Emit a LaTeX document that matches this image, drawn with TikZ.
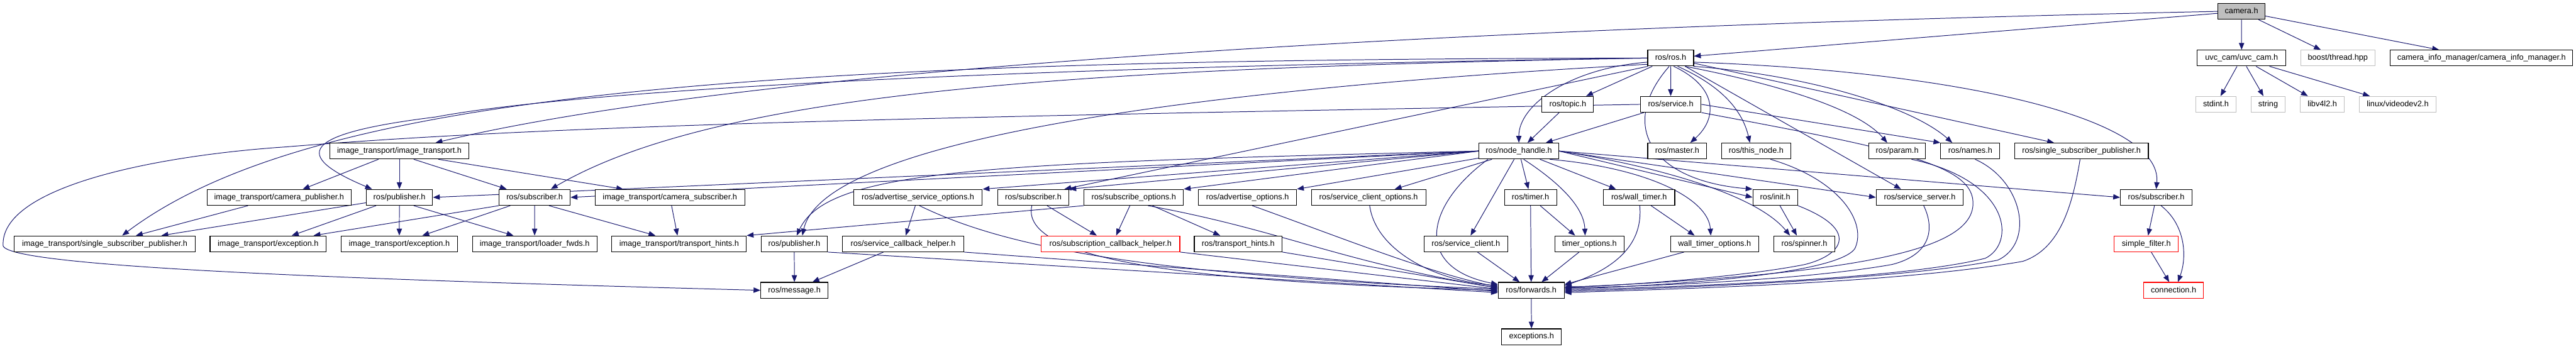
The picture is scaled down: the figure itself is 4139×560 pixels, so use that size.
\documentclass[tikz,border=0pt]{standalone}
\usepackage{fontspec}
\setmainfont{Liberation Sans}
\usetikzlibrary{arrows.meta}
\definecolor{edgec}{HTML}{191970}
\definecolor{grayc}{HTML}{BFBFBF}
\pgfdeclarelayer{bg}
\pgfsetlayers{bg,main}
\newcommand\mkbox[6][]{\node[dbox,#1,minimum width={#4pt-#3pt}] (#2) at ({(#3+#4)/2},#5) {#6};}
\begin{document}
\begin{tikzpicture}[x=1pt,y=-1pt,
  dbox/.style={draw=black, line width=1.1pt, fill=white, rectangle, inner sep=0pt,
    minimum height=25.5pt, text height=9.4pt, text depth=2.6pt,
    font=\fontsize{12.85}{14}\selectfont},
  sysbox/.style={draw=grayc},
  missbox/.style={draw=red},
  curbox/.style={fill=grayc},
  dep/.style={draw=edgec, line width=1pt, -{Triangle[length=11pt,width=8.5pt]}}]
\useasboundingbox (0,0) rectangle (4139,560);
% row 0
\mkbox[curbox]{cam}{3563.5}{3639.4}{18.3}{camera.h}
% row 1
\mkbox{ros}{2647.5}{2721.2}{93.3}{ros/ros.h}
\mkbox{uvc}{3530.5}{3672.9}{93.3}{uvc\_cam/uvc\_cam.h}
\mkbox[sysbox]{boost}{3696.9}{3815.7}{93.3}{boost/thread.hpp}
\mkbox{cim}{3840.7}{4133.8}{93.3}{camera\_info\_manager/camera\_info\_manager.h}
% row 2
\mkbox{topic}{2477.5}{2560.5}{167.7}{ros/topic.h}
\mkbox{service}{2635.5}{2733.3}{167.7}{ros/service.h}
\mkbox[sysbox]{stdint}{3527.7}{3593.2}{167.7}{stdint.h}
\mkbox[sysbox]{string}{3616.8}{3671.9}{167.7}{string}
\mkbox[sysbox]{libv}{3696}{3766.7}{167.7}{libv4l2.h}
\mkbox[sysbox]{vdev}{3791.2}{3913.7}{167.7}{linux/videodev2.h}
% row 3
\mkbox{itit}{530.3}{753.2}{242.7}{image\_transport/image\_transport.h}
\mkbox{nh}{2376.6}{2504.3}{242.7}{ros/node\_handle.h}
\mkbox{master}{2647.5}{2742.3}{242.7}{ros/master.h}
\mkbox{thisnode}{2766.4}{2877.1}{242.7}{ros/this\_node.h}
\mkbox{param}{3003}{3093.6}{242.7}{ros/param.h}
\mkbox{names}{3118.2}{3213.3}{242.7}{ros/names.h}
\mkbox{rssp}{3236.9}{3451.8}{242.7}{ros/single\_subscriber\_publisher.h}
% row 4
\mkbox{itcp}{332.6}{564.3}{317.2}{image\_transport/camera\_publisher.h}
\mkbox{pubA}{588.4}{695.1}{317.2}{ros/publisher.h}
\mkbox{subA}{801.9}{916.2}{317.2}{ros/subscriber.h}
\mkbox{itcs}{956.3}{1196.5}{317.2}{image\_transport/camera\_subscriber.h}
\mkbox{aso}{1371.6}{1578.3}{317.2}{ros/advertise\_service\_options.h}
\mkbox{subB}{1602.8}{1717.6}{317.2}{ros/subscriber.h}
\mkbox{so}{1741.7}{1901.5}{317.2}{ros/subscribe\_options.h}
\mkbox{ao}{1925.6}{2083.3}{317.2}{ros/advertise\_options.h}
\mkbox{sco}{2107}{2290.9}{317.2}{ros/service\_client\_options.h}
\mkbox{timer}{2417.2}{2501.1}{317.2}{ros/timer.h}
\mkbox{wtimer}{2576.1}{2690.9}{317.2}{ros/wall\_timer.h}
\mkbox{init}{2816.4}{2888.3}{317.2}{ros/init.h}
\mkbox{ss}{3014.6}{3154.3}{317.2}{ros/service\_server.h}
\mkbox{subC}{3407}{3522}{317.2}{ros/subscriber.h}
% row 5
\mkbox{itssp}{22.8}{313.8}{391.8}{image\_transport/single\_subscriber\_publisher.h}
\mkbox{itexA}{337.5}{524.1}{391.8}{image\_transport/exception.h}
\mkbox{itexB}{548.2}{734.9}{391.8}{image\_transport/exception.h}
\mkbox{itlf}{759}{959}{391.8}{image\_transport/loader\_fwds.h}
\mkbox{itth}{983.1}{1199.2}{391.8}{image\_transport/transport\_hints.h}
\mkbox{pubB}{1222.8}{1329.5}{391.8}{ros/publisher.h}
\mkbox{sch}{1353.6}{1548.4}{391.8}{ros/service\_callback\_helper.h}
\mkbox[missbox]{subcb}{1672.9}{1895.7}{391.8}{ros/subscription\_callback\_helper.h}
\mkbox{rth}{1918.9}{2060}{391.8}{ros/transport\_hints.h}
\mkbox{sc}{2287.8}{2422.6}{391.8}{ros/service\_client.h}
\mkbox{topt}{2498.5}{2609.2}{391.8}{timer\_options.h}
\mkbox{wto}{2684.2}{2825.4}{391.8}{wall\_timer\_options.h}
\mkbox{spin}{2850.4}{2947.7}{391.8}{ros/spinner.h}
\mkbox[missbox]{sf}{3397.2}{3499.9}{391.8}{simple\_filter.h}
% row 6
\mkbox{msg}{1222.4}{1330.4}{466.5}{ros/message.h}
\mkbox{fwd}{2407.4}{2513.2}{466.5}{ros/forwards.h}
\mkbox[missbox]{conn}{3444.3}{3540.4}{466.5}{connection.h}
% row 7
\mkbox{exc}{2412.8}{2508.7}{541.2}{exceptions.h}

\begin{pgfonlayer}{bg}
% camera.h
\draw[dep] (cam) -- (ros);
\draw[dep] (cam.west) .. controls (2300,45) and (1200,110) .. ([xshift=58pt]itit.north);
\draw[dep] (cam) -- (uvc);
\draw[dep] (cam) -- (boost);
\draw[dep] (cam) -- (cim);
% uvc
\draw[dep] (uvc) -- (stdint);
\draw[dep] (uvc) -- (string);
\draw[dep] (uvc) -- (libv);
\draw[dep] (uvc) -- (vdev);
% ros.h
\draw[dep] (ros) -- (topic);
\draw[dep] (ros) -- (service);
\draw[dep] (ros.-170) .. controls (2520,110) and (2440,170) .. (nh.north);
\draw[dep] (ros.-70) .. controls (2760,140) and (2760,190) .. ([xshift=21pt]master.north);
\draw[dep] (ros.-50) .. controls (2770,140) and (2800,180) .. ([xshift=-10pt]thisnode.north);
\draw[dep] (ros.-30) .. controls (2880,140) and (2990,180) .. ([xshift=-16pt]param.north);
\draw[dep] (ros.-20) .. controls (2900,120) and (3070,170) .. ([xshift=-29pt]names.north);
\draw[dep] (ros) -- ([xshift=-44pt]rssp.north);
\draw[dep] (ros.-10) .. controls (3150,115) and (3475,190) .. (subC.north);
\draw[dep] (ros) -- ([xshift=-30pt]ss.north);
\draw[dep] (ros.-100) .. controls (2600,200) and (2650,290) .. (init.north west);
\draw[dep] (ros.west) .. controls (1200,95) and (500,150) .. ([xshift=28pt]itssp.north);
\draw[dep] (ros.west) .. controls (1500,110) and (900,150) .. (700,188) .. controls (480,215) and (470,250) .. ([xshift=-44pt]pubA.north);
\draw[dep] (ros.west) .. controls (1700,110) and (1150,150) .. ([xshift=26pt]subA.north);
\draw[dep] (ros.-165) .. controls (1800,150) and (1320,240) .. ([xshift=13pt]pubB.north);
\draw[dep] (ros.-160) -- ([xshift=-8pt]subB.north east);
% topic / service
\draw[dep] (topic) -- (nh);
\draw[dep] (service) -- (nh);
\draw[dep] (service.east) -- (names.north west);
\draw[dep] (service.-15) .. controls (3050,240) and (3175,265) .. (3170,330) .. controls (3165,400) and (3000,440) .. (fwd.5);
\draw[dep] (service.west) .. controls (1500,188) and (900,200) .. (460,236) .. controls (250,250) and (0,300) .. (5,395) .. controls (15,430) and (600,450) .. (msg.west);
% node_handle.h
\draw[dep] (nh.west) -- (pubA.east);
\draw[dep] (nh.west) -- (subA.east);
\draw[dep] (nh.west) -- (aso.north east);
\draw[dep] (nh.west) -- (subB.north east);
\draw[dep] (nh.west) -- (so.north east);
\draw[dep] (nh.-170) -- (ao.north east);
\draw[dep] (nh) -- ([xshift=42pt]sco.north);
\draw[dep] (nh.west) .. controls (1600,262) and (1330,270) .. ([xshift=4pt]pubB.north);
\draw[dep] (nh.-165) .. controls (2290,330) and (2270,430) .. (fwd.170);
\draw[dep] (nh) -- (sc);
\draw[dep] (nh) -- (timer);
\draw[dep] (nh.-60) .. controls (2500,290) and (2545,330) .. ([xshift=-7pt]topt.north);
\draw[dep] (nh) -- ([xshift=-37pt]wtimer.north);
\draw[dep] (nh.-15) .. controls (2650,270) and (2745,320) .. ([xshift=-6pt]wto.north);
\draw[dep] (nh.east) .. controls (2650,265) and (2820,310) .. ([xshift=-23pt]spin.north);
\draw[dep] (nh.east) -- (init.west);
\draw[dep] (nh.east) -- (ss.west);
\draw[dep] (nh.east) -- (subC.west);
% curves into forwards.h from the right
\draw[dep] (thisnode.-30) .. controls (2960,290) and (3000,360) .. (2980,400) .. controls (2950,440) and (2700,458) .. (fwd.2);
\draw[dep] (param.-30) .. controls (3230,290) and (3240,390) .. (3190,415) .. controls (3050,450) and (2700,460) .. (fwd.0);
\draw[dep] (names.-60) .. controls (3250,290) and (3270,390) .. (3210,418) .. controls (3050,450) and (2700,462) .. (fwd.-2);
\draw[dep] (rssp) .. controls (3330,330) and (3310,400) .. (3250,420) .. controls (3050,455) and (2700,464) .. (fwd.-4);
\draw[dep] (ss) .. controls (3110,370) and (3100,410) .. (3040,425) .. controls (2900,450) and (2650,460) .. (fwd.4);
\draw[dep] (init.-20) .. controls (2990,370) and (2960,410) .. (2900,425) .. controls (2800,445) and (2600,460) .. (fwd.6);
\draw[dep] (init) -- ([xshift=-12pt]spin.north);
\draw[dep] (wtimer) -- ([xshift=-32pt]wto.north);
\draw[dep] (wtimer) .. controls (2640,390) and (2600,430) .. (fwd.8);
\draw[dep] (wto) -- (fwd.10);
\draw[dep] (timer) -- ([xshift=-23pt]topt.north);
\draw[dep] (timer) -- (fwd);
\draw[dep] (topt) -- (fwd);
\draw[dep] (sc) -- (fwd);
% curves into forwards.h from the left
\draw[dep] (sco) .. controls (2210,400) and (2300,450) .. (fwd.172);
\draw[dep] (ao.-60) .. controls (2150,380) and (2300,440) .. (fwd.174);
\draw[dep] (so.-30) .. controls (2060,370) and (2150,420) .. (fwd.176);
\draw[dep] (so) -- ([xshift=9pt]subcb.north);
\draw[dep] (so) -- ([xshift=-29pt]rth.north);
\draw[dep] (so.south west) -- (itth.north east);
\draw[dep] (subB) -- ([xshift=-22pt]subcb.north);
\draw[dep] (subB.-100) .. controls (1635,430) and (2000,455) .. (fwd.180);
\draw[dep] (aso) -- (sch);
\draw[dep] (aso.-80) .. controls (1600,390) and (1800,440) .. (fwd.178);
\draw[dep] (sch) -- ([xshift=29pt]msg.north);
\draw[dep] (sch.south east) -- (fwd.182);
\draw[dep] (subcb.south east) -- (fwd.178);
\draw[dep] (rth.south east) -- (fwd.176);
\draw[dep] (pubB) -- (msg);
\draw[dep] (pubB.south east) -- (fwd.184);
% image_transport cluster
\draw[dep] (itit) -- ([xshift=38pt]itcp.north);
\draw[dep] (itit) -- (pubA);
\draw[dep] (itit.-30) -- ([xshift=-45pt]subA.north);
\draw[dep] (itit.-12) -- ([xshift=-75pt]itcs.north);
\draw[dep] (itcp) -- ([xshift=50pt]itssp.north);
\draw[dep] (pubA) -- ([xshift=91pt]itssp.north);
\draw[dep] (pubA) -- ([xshift=38pt]itexA.north);
\draw[dep] (pubA) -- (itexB);
\draw[dep] (pubA.-30) -- ([xshift=-34pt]itlf.north);
\draw[dep] (subA.south west) -- ([xshift=73pt]itexA.north);
\draw[dep] (subA) -- ([xshift=37pt]itexB.north);
\draw[dep] (subA) -- (itlf);
\draw[dep] (subA.-30) -- ([xshift=-38pt]itth.north);
\draw[dep] (itcs) -- (itth);
% message_filters cluster
\draw[dep] (subC) -- (sf);
\draw[dep] (subC.-60) .. controls (3510,360) and (3515,410) .. ([xshift=7pt]conn.north);
\draw[dep] (sf) -- ([xshift=-7pt]conn.north);
\draw[dep] (fwd) -- (exc);
\end{pgfonlayer}
\end{tikzpicture}
\end{document}
